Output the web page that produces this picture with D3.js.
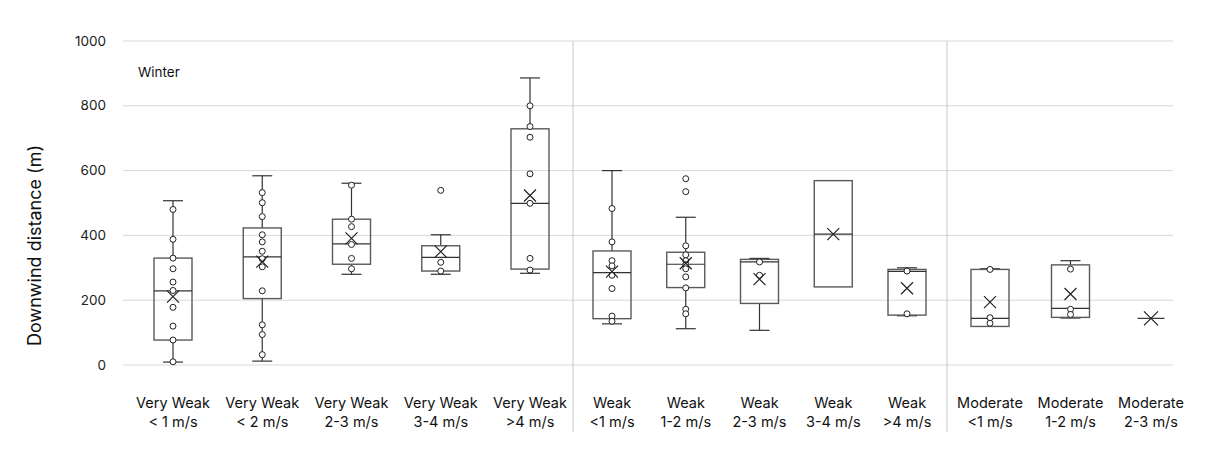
<!DOCTYPE html>
<html><head><meta charset="utf-8">
<script src="https://cdn.jsdelivr.net/npm/d3@7"></script>
<style>body{margin:0;background:#fff}svg{font-family:Inter,"Liberation Sans",sans-serif}</style>
</head><body><svg id="c" width="1206" height="458"></svg>
<script>
const labelTop = ["Very Weak","Very Weak","Very Weak","Very Weak","Very Weak","Weak","Weak","Weak","Weak","Weak","Moderate","Moderate","Moderate"];
const labelBottom = ["< 1 m/s","< 2 m/s","2-3 m/s","3-4 m/s",">4 m/s","<1 m/s","1-2 m/s","2-3 m/s","3-4 m/s",">4 m/s","<1 m/s","1-2 m/s","2-3 m/s"];
const panel = [0,0,0,0,0,1,1,1,1,1,2,2,2];
const whiskerLow  = [9,12,280,280,283,127,112,107,241,152,119,145,144];
const q1          = [77,205,311,290,296,143,239,190,241,154,119,147,144];
const median      = [229,334,374,332,499,285,311,318,404,289,144,175,144];
const q3          = [330,423,450,368,729,352,348,326,569,295,295,309,144];
const whiskerHigh = [507,584,561,402,886,600,456,329,569,300,297,322,144];
const mean        = [211,319,391,350,523,288,314,265,404,237,194,219,144];
const points = [
  [480,388,330,297,256,230,178,120,77,10],
  [532,501,458,402,380,351,328,303,229,124,94,32],
  [555,450,427,372,329,297],
  [539,317,290],
  [800,736,703,590,499,329,293],
  [483,380,322,306,277,236,151,135],
  [575,535,368,340,322,309,297,272,238,172,158],
  [318,277],
  [],
  [290,158],
  [295,146,129],
  [296,172,156],
  []
];
const yTicks = [0,200,400,600,800,1000];

const svg = d3.select("#c");
const y = d3.scaleLinear().domain([0,1000]).range([365,41]);
const panelX = [
  d3.scalePoint().domain([0,1,2,3,4]).range([173,530]),
  d3.scalePoint().domain([5,6,7,8,9]).range([612,907]),
  d3.scalePoint().domain([10,11,12]).range([990,1151])
];
const xc = i => panelX[panel[i]](i);
const left = 123, right = 1173;
const bw = 38, cw = 20;

// gridlines
svg.append("g").selectAll("line").data(yTicks).join("line")
  .attr("x1",left).attr("x2",right).attr("y1",d=>y(d)).attr("y2",d=>y(d))
  .attr("stroke","#d9d9d9").attr("stroke-width",1);
svg.append("g").selectAll("text").data(yTicks).join("text")
  .attr("x",106).attr("y",d=>y(d)+4.5).attr("text-anchor","end")
  .attr("font-size",13.5).attr("fill","#222").text(d=>d);
// separators
svg.append("g").selectAll("line").data([573,947]).join("line")
  .attr("x1",d=>d).attr("x2",d=>d).attr("y1",41).attr("y2",432)
  .attr("stroke","#c8c8c8").attr("stroke-width",1);

svg.append("text").attr("transform","translate(41,245.5) rotate(-90)")
  .attr("text-anchor","middle").attr("font-size",18).attr("fill","#111").text("Downwind distance (m)");
svg.append("text").attr("x",138).attr("y",77).attr("font-size",13.5).attr("fill","#111").text("Winter");

const idx = d3.range(labelTop.length);
const g = svg.append("g");
idx.forEach(i=>{
  const x = xc(i);
  const gg = g.append("g");
  if (whiskerHigh[i] > q3[i]) gg.append("line").attr("x1",x).attr("x2",x).attr("y1",y(q3[i])).attr("y2",y(whiskerHigh[i])).attr("stroke","#333").attr("stroke-width",1.2);
  if (whiskerLow[i] < q1[i]) gg.append("line").attr("x1",x).attr("x2",x).attr("y1",y(q1[i])).attr("y2",y(whiskerLow[i])).attr("stroke","#333").attr("stroke-width",1.2);
  if (whiskerHigh[i] !== q3[i]) gg.append("line").attr("x1",x-cw/2).attr("x2",x+cw/2).attr("y1",y(whiskerHigh[i])).attr("y2",y(whiskerHigh[i])).attr("stroke","#333").attr("stroke-width",1.2);
  if (whiskerLow[i] !== q1[i]) gg.append("line").attr("x1",x-cw/2).attr("x2",x+cw/2).attr("y1",y(whiskerLow[i])).attr("y2",y(whiskerLow[i])).attr("stroke","#333").attr("stroke-width",1.2);
  const w = q3[i]===q1[i] ? 27 : bw;
  gg.append("rect").attr("x",x-w/2).attr("y",y(q3[i])).attr("width",w).attr("height",Math.max(0,y(q1[i])-y(q3[i])))
    .attr("fill","none").attr("stroke","#5a5a5a").attr("stroke-width",1.4);
  gg.append("line").attr("x1",x-w/2).attr("x2",x+w/2).attr("y1",y(median[i])).attr("y2",y(median[i])).attr("stroke","#333").attr("stroke-width",1.2);
  gg.selectAll("circle").data(points[i]).join("circle")
    .attr("cx",x).attr("cy",d=>y(d)).attr("r",3).attr("fill","#fff").attr("stroke","#222").attr("stroke-width",1);
  const s = q3[i]===q1[i] ? 7 : 6, my = y(mean[i]);
  gg.append("path").attr("d",`M${x-s},${my-s}L${x+s},${my+s}M${x-s},${my+s}L${x+s},${my-s}`)
    .attr("stroke","#222").attr("stroke-width",1.2).attr("fill","none");
});
const lab = svg.append("g").selectAll("text").data(idx).join("text")
  .attr("text-anchor","middle").attr("font-size",14.5).attr("fill","#111");
lab.append("tspan").attr("x",i=>xc(i)).attr("y",408).text(i=>labelTop[i]);
lab.append("tspan").attr("x",i=>xc(i)).attr("y",427).text(i=>labelBottom[i]);
</script></body></html>
